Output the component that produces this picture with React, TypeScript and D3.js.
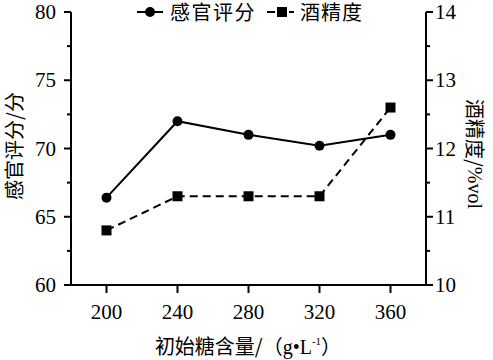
import * as d3 from "d3";

const sugar = [200, 240, 280, 320, 360];
const sensory = [66.4, 72.0, 71.0, 70.2, 71.0];
const alcohol = [10.8, 11.3, 11.3, 11.3, 12.6];
const leftTicks = [60, 65, 70, 75, 80];
const leftMinor = [62.5, 67.5, 72.5, 77.5];
const rightTicks = [10, 11, 12, 13, 14];
const rightMinor = [10.5, 11.5, 12.5, 13.5];

const SERIF = "Liberation Serif";
const CJK = "Noto Sans CJK SC";

export default function App() {
  const W = 493;
  const H = 360;
  const left = 71;
  const right = 426;
  const top = 12;
  const bottom = 285;

  const x = d3.scaleLinear().domain([180, 380]).range([left, right]);
  const yL = d3.scaleLinear().domain([60, 80]).range([bottom, top]);
  const yR = d3.scaleLinear().domain([10, 14]).range([bottom, top]);

  const sensoryLine = d3
    .line<number>()
    .x((_, i) => x(sugar[i]))
    .y((d) => yL(d));
  const alcoholLine = d3
    .line<number>()
    .x((_, i) => x(sugar[i]))
    .y((d) => yR(d));

  const sq = 10;
  const serif = { fontFamily: SERIF };
  const cjk = { fontFamily: CJK };

  return (
    <div style={{ position: "absolute", left: 0, top: 0 }}>
      <svg width={W} height={H} style={{ display: "block", background: "#fff" }}>
        {/* axes */}
        <g stroke="#000" strokeWidth={2} fill="none">
          <line x1={left} x2={left} y1={top} y2={bottom + 1} />
          <line x1={right} x2={right} y1={top} y2={bottom + 1} />
          <line x1={left - 7} x2={right + 7} y1={bottom} y2={bottom} />
          {leftTicks.map((t) => (
            <line key={"l" + t} x1={left - 7} x2={left} y1={yL(t)} y2={yL(t)} />
          ))}
          {leftMinor.map((t) => (
            <line key={"lm" + t} x1={left - 4} x2={left} y1={yL(t)} y2={yL(t)} />
          ))}
          {rightTicks.map((t) => (
            <line key={"r" + t} x1={right} x2={right + 7} y1={yR(t)} y2={yR(t)} />
          ))}
          {rightMinor.map((t) => (
            <line key={"rm" + t} x1={right} x2={right + 4} y1={yR(t)} y2={yR(t)} />
          ))}
          {sugar.map((s) => (
            <line key={"b" + s} x1={x(s)} x2={x(s)} y1={bottom} y2={bottom + 8} />
          ))}
        </g>

        {/* tick labels */}
        {leftTicks.map((t) => (
          <text key={"lt" + t} x={left - 15} y={yL(t) + 7} textAnchor="end" style={serif} fontSize={21}>
            {t}
          </text>
        ))}
        {rightTicks.map((t) => (
          <text key={"rt" + t} x={right + 9} y={yR(t) + 7} textAnchor="start" style={serif} fontSize={21}>
            {t}
          </text>
        ))}
        {sugar.map((s) => (
          <text key={"bt" + s} x={x(s)} y={319} textAnchor="middle" style={serif} fontSize={21}>
            {s}
          </text>
        ))}

        {/* axis titles */}
        <text
          transform={`translate(13,146) rotate(-90)`}
          textAnchor="middle"
          dominantBaseline="central"
          style={cjk}
          fontSize={20}
        >
          感官评分/分
        </text>
        <text
          transform={`translate(475,154) rotate(90)`}
          textAnchor="middle"
          dominantBaseline="central"
          style={cjk}
          fontSize={20}
        >
          酒精度/<tspan style={serif}>%vol</tspan>
        </text>
        <text x={248} y={354} textAnchor="middle" style={cjk} fontSize={20}>
          初始糖含量/（<tspan style={serif}>g•L</tspan>
          <tspan style={serif} fontSize={11} dy={-9}>
            -1
          </tspan>
          <tspan dy={9}>）</tspan>
        </text>

        {/* series */}
        <path d={sensoryLine(sensory) ?? ""} fill="none" stroke="#000" strokeWidth={2} />
        <path
          d={alcoholLine(alcohol) ?? ""}
          fill="none"
          stroke="#000"
          strokeWidth={2}
          strokeDasharray="8,5"
        />
        {sensory.map((v, i) => (
          <circle key={"c" + i} cx={x(sugar[i])} cy={yL(v)} r={5} fill="#000" />
        ))}
        {alcohol.map((v, i) => (
          <rect
            key={"s" + i}
            x={x(sugar[i]) - sq / 2}
            y={yR(v) - sq / 2}
            width={sq}
            height={sq}
            fill="#000"
          />
        ))}

        {/* legend */}
        <g>
          <line x1={137} x2={163} y1={12} y2={12} stroke="#000" strokeWidth={2} />
          <circle cx={150} cy={12} r={5} fill="#000" />
          <text x={170} y={20} style={cjk} fontSize={20} letterSpacing={1.5}>
            感官评分
          </text>
          <line
            x1={267}
            x2={294}
            y1={12}
            y2={12}
            stroke="#000"
            strokeWidth={2}
            strokeDasharray="8,3"
          />
          <rect x={277} y={7} width={sq} height={sq} fill="#000" />
          <text x={300} y={20} style={cjk} fontSize={20} letterSpacing={1}>
            酒精度
          </text>
        </g>
      </svg>
    </div>
  );
}
